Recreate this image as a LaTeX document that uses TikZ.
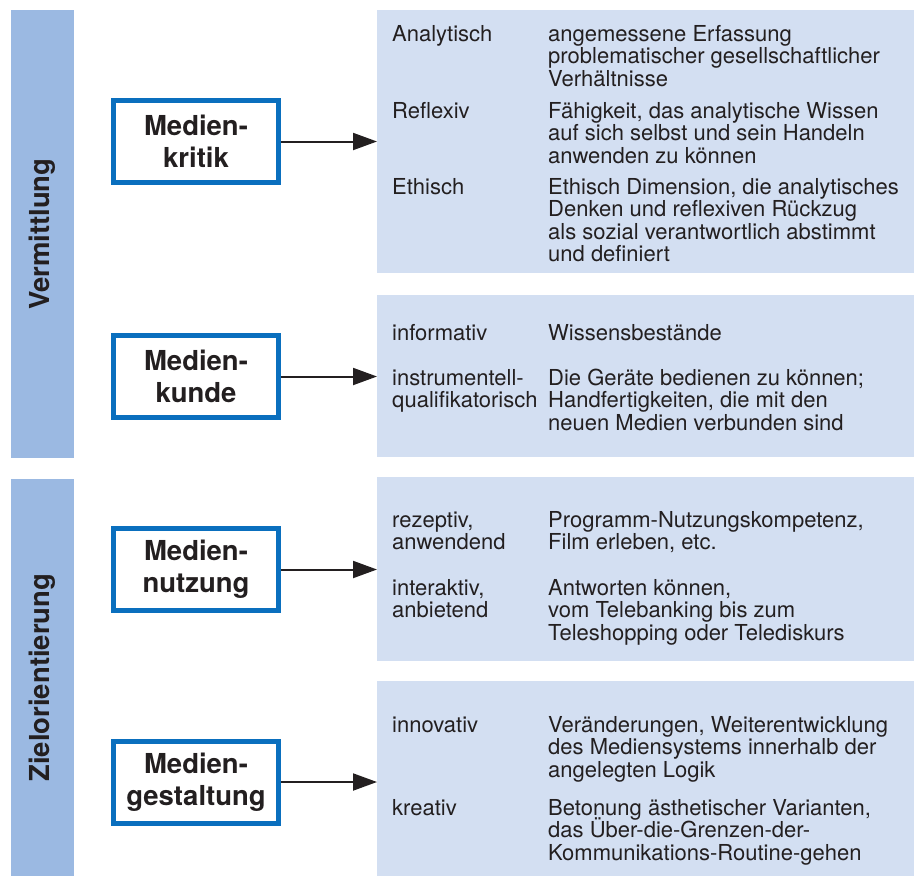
\documentclass[tikz,border=0pt]{standalone}
\usepackage{fontspec}
\setmainfont{TeX Gyre Heros}
\usepackage{tikz}
\usetikzlibrary{positioning, arrows.meta}
\definecolor{barblue}{HTML}{9BB9E2}
\definecolor{panelblue}{HTML}{D3DFF2}
\definecolor{frameblue}{HTML}{0A6FBE}
\definecolor{inkgrey}{HTML}{231F20}
\newcommand\entryfont{\fontsize{22}{22.5}\selectfont\lineskiplimit=-50pt\relax} % keeps the lines evenly spaced, also with Ü
\tikzset{
x=1pt, y=-1pt, % one unit is one pixel of the original
side bar/.style={fill=barblue, anchor=north west, minimum width=63pt, inner sep=0pt}, % the two coloured bars on the left
side text/.style={rotate=90, font=\fontsize{27.5}{30}\selectfont\bfseries, text=inkgrey},
topic/.style={draw=frameblue, line width=5pt, fill=white, minimum width=165pt, minimum height=82pt,
  align=center, inner sep=0pt, font=\fontsize{27.5}{31.7}\selectfont\bfseries, text=inkgrey}, % the framed boxes
panel/.style={fill=panelblue, anchor=north west, minimum width=537pt, inner sep=0pt}, % the pale fields on the right
entry/.style={anchor=base west, align=left, inner sep=0pt, font=\entryfont, text=inkgrey}, % placed at the baseline of the LAST line
link/.style={-{Triangle[length=24pt, width=17pt]}, line width=2pt, inkgrey},
}

\begin{document}
\begin{tikzpicture}
    \useasboundingbox (0,0) rectangle (914,876);

    % bars on the left
    \node[side bar, minimum height=448pt] (vermittlung) at (11,10) {};
    \node[side bar, minimum height=397pt] (ziel) at (11,479) {};
    \node[side text] at (vermittlung.center) {Vermittlung};
    \node[side text] at (ziel.center) {Zielorientierung};

    % fields on the right
    \node[panel, minimum height=263pt] (kritikfeld) at (377,10) {};
    \node[panel, minimum height=162pt] (kundefeld) at (377,295) {};
    \node[panel, minimum height=184pt] (nutzungfeld) at (377,477) {};
    \node[panel, minimum height=195pt] (gestaltungfeld) at (377,681) {};

    % framed boxes
    \node[topic] (kritik) at (196,141.5) {Medien-\\kritik};
    \node[topic] (kunde) at (196,376.5) {Medien-\\kunde};
    \node[topic] (nutzung) at (196,569.5) {Medien-\\nutzung};
    \node[topic] (gestaltung) at (196,782) {Medien-\\gestaltung};

    \draw[link] (kritik.east) -- (kritik.east -| kritikfeld.west);
    \draw[link] (kunde.east) -- (kunde.east -| kundefeld.west);
    \draw[link] (nutzung.east) -- (nutzung.east -| nutzungfeld.west);
    \draw[link] (gestaltung.east) -- (gestaltung.east -| gestaltungfeld.west);

    % Medienkritik
    \node[entry] (analytisch) at (392,41) {Analytisch};
    \node[entry] (analytischtext) at (548,86) {angemessene Erfassung\\problematischer gesellschaftlicher\\Verhältnisse};
    \node[entry] (reflexiv) at (392,118) {Reflexiv};
    \node[entry] (reflexivtext) at (548,163) {Fähigkeit, das analytische Wissen\\auf sich selbst und sein Handeln\\anwenden zu können};
    \node[entry] (ethisch) at (392,194) {Ethisch};
    \node[entry] (ethischtext) at (548,261.5) {Ethisch Dimension, die analytisches\\Denken und reflexiven Rückzug\\als sozial verantwortlich abstimmt\\und definiert};

    % Medienkunde
    \node[entry] (informativ) at (392,340) {informativ};
    \node[entry] (informativtext) at (548,340) {Wissensbestände};
    \node[entry] (instrumentell) at (392,407.5) {instrumentell-\\qualifikatorisch};
    \node[entry] (instrumentelltext) at (548,430) {Die Geräte bedienen zu können;\\Handfertigkeiten, die mit den\\neuen Medien verbunden sind};

    % Mediennutzung
    \node[entry] (rezeptiv) at (392,549.5) {rezeptiv,\\anwendend};
    \node[entry] (rezeptivtext) at (548,549.5) {Programm-Nutzungskompetenz,\\Film erleben, etc.};
    \node[entry] (interaktiv) at (392,617.5) {interaktiv,\\anbietend};
    \node[entry] (interaktivtext) at (548,640) {Antworten können,\\vom Telebanking bis zum\\Teleshopping oder Telediskurs};

    % Mediengestaltung
    \node[entry] (innovativ) at (392,732) {innovativ};
    \node[entry] (innovativtext) at (548,777) {Veränderungen, Weiterentwicklung\\des Mediensystems innerhalb der\\angelegten Logik};
    \node[entry] (kreativ) at (392,815) {kreativ};
    \node[entry] (kreativtext) at (548,860) {Betonung ästhetischer Varianten,\\das Über-die-Grenzen-der-\\Kommunikations-Routine-gehen};
\end{tikzpicture}
\end{document}
